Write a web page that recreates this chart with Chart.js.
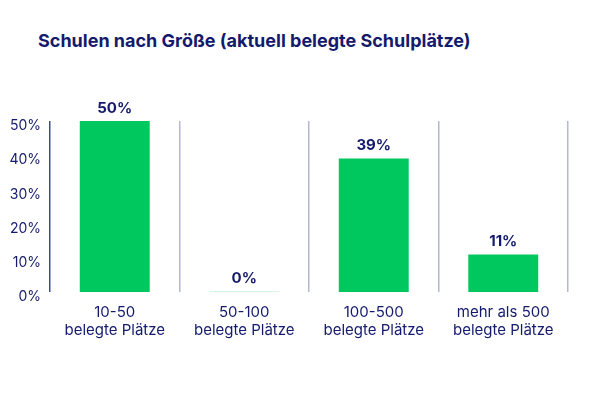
<!DOCTYPE html>
<html>
<head>
<meta charset="utf-8">
<script src="https://cdn.jsdelivr.net/npm/chart.js@4"></script>
<style>
  html, body { margin: 0; padding: 0; background: #fff; }
  #wrap { position: relative; width: 599px; height: 399px; }
  #title { position: absolute; left: 38px; top: 30px; font-family: Inter, "Open Sans", sans-serif; font-weight: 700; font-size: 18px; color: #141a6c; white-space: nowrap; }
  canvas { position: absolute; left: 0; top: 0; }
</style>
</head>
<body>
<div id="wrap">
  <div id="title">Schulen nach Größe (aktuell belegte Schulplätze)</div>
  <canvas id="c" width="599" height="399"></canvas>
</div>
<script>
const categories = [["10-50", "belegte Plätze"], ["50-100", "belegte Plätze"], ["100-500", "belegte Plätze"], ["mehr als 500", "belegte Plätze"]];
const values = [50, 0, 39, 11];
const yTicks = [0, 10, 20, 30, 40, 50];

const NAVY = '#141a6c';
const GREEN = '#00c85f';

const labelPlugin = {
  id: 'barLabels',
  afterDatasetsDraw(chart) {
    const ctx = chart.ctx;
    const meta = chart.getDatasetMeta(0);
    ctx.save();
    ctx.font = '700 15px Inter, "Open Sans", sans-serif';
    ctx.fillStyle = NAVY;
    ctx.textAlign = 'center';
    ctx.textBaseline = 'middle';
    meta.data.forEach((bar, i) => {
      ctx.fillText(values[i] + '%', bar.x, bar.y - 13);
    });
    ctx.restore();
  }
};

new Chart(document.getElementById('c'), {
  type: 'bar',
  data: {
    labels: categories,
    datasets: [{
      data: values,
      backgroundColor: (c) => (c.raw === 0 ? '#d2f4e0' : GREEN),
      borderWidth: 0,
      minBarLength: 1,
      categoryPercentage: 1,
      barPercentage: 0.54
    }]
  },
  options: {
    responsive: false,
    animation: false,
    layout: { padding: { top: 121, right: 31, bottom: 57, left: 0 } },
    plugins: { legend: { display: false }, tooltip: { enabled: false }, title: { display: false } },
    scales: {
      x: {
        offset: true,
        grid: {
          offset: true,
          drawTicks: false,
          lineWidth: 1.5,
          color: (c) => c.index === 0 ? '#3e4b8e' : '#b3b8cf'
        },
        border: { display: false },
        ticks: {
          color: NAVY,
          font: { family: 'Inter, "Open Sans", sans-serif', size: 15 },
          padding: 11,
          maxRotation: 0
        },
        afterFit(s) { s.height = 50; }
      },
      y: {
        min: 0,
        max: 50,
        afterBuildTicks(s) { s.ticks = yTicks.map(v => ({ value: v })); },
        grid: { display: false },
        border: { display: false },
        ticks: {
          color: NAVY,
          font: { family: 'Inter, "Open Sans", sans-serif', size: 14 },
          padding: 1,
          labelOffset: 5,
          callback: (v) => v + '%'
        },
        afterFit(s) { s.width = 50; }
      }
    }
  },
  plugins: [labelPlugin]
});
</script>
</body>
</html>
